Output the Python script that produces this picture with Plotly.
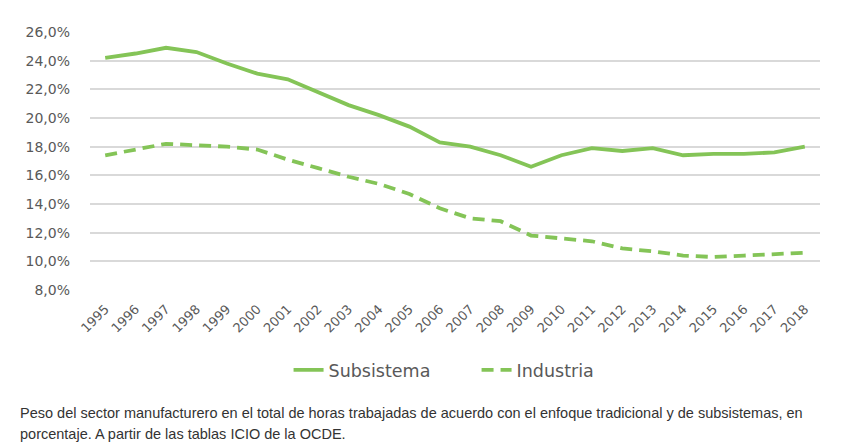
import plotly.graph_objects as go

years = [str(y) for y in range(1995, 2019)]
subsistema = [24.2, 24.5, 24.9, 24.6, 23.8, 23.1, 22.7, 21.8, 20.9, 20.2, 19.4, 18.3,
              18.0, 17.4, 16.6, 17.4, 17.9, 17.7, 17.9, 17.4, 17.5, 17.5, 17.6, 18.0]
industria = [17.4, 17.8, 18.2, 18.1, 18.0, 17.8, 17.1, 16.5, 15.9, 15.4, 14.7, 13.7,
             13.0, 12.8, 11.8, 11.6, 11.4, 10.9, 10.7, 10.4, 10.3, 10.4, 10.5, 10.6]
y_ticks = [8, 10, 12, 14, 16, 18, 20, 22, 24, 26]
y_labels = ["%d,0%%" % v for v in y_ticks]

caption_lines = [
    "Peso del sector manufacturero en el total de horas trabajadas de acuerdo con el "
    "enfoque tradicional y de subsistemas, en",
    "porcentaje. A partir de las tablas ICIO de la OCDE.",
]

green = "#84c457"
fig = go.Figure()
fig.add_trace(go.Scatter(x=years, y=subsistema, mode="lines", name="Subsistema",
                         line=dict(color=green, width=3.8)))
fig.add_trace(go.Scatter(x=years, y=industria, mode="lines", name="Industria",
                         line=dict(color=green, width=3.8, dash="12px,7px")))

# page body has an 8px margin, so the figure is a bit smaller than the window
fig.update_layout(
    width=841, height=436,
    margin=dict(l=82, r=29, t=24, b=154),
    paper_bgcolor="white", plot_bgcolor="white",
    font=dict(family="DejaVu Sans, Verdana, sans-serif", color="#595959"),
    legend=dict(orientation="h", x=0.272, xanchor="left", y=-0.31, yanchor="middle",
                font=dict(size=17.5, color="#595959"), entrywidth=143,
                entrywidthmode="pixels", tracegroupgap=0),
    xaxis=dict(type="category", range=[-0.5, 23.5], tickangle=-45, tickfont=dict(size=13),
               showgrid=False, showline=False, ticks="", ticklabelstandoff=8,
               automargin=False),
    yaxis=dict(range=[8, 26], tickvals=y_ticks, ticktext=y_labels,
               tickfont=dict(size=14), gridcolor="#d9d9d9", gridwidth=1.5,
               zeroline=False, ticks="", ticklen=0, ticklabelstandoff=19,
               automargin=False),
)
for text, ypos in zip(caption_lines, [-0.4767, -0.558]):
    fig.add_annotation(text=text, xref="paper", yref="paper", x=-0.0986, xanchor="left",
                       y=ypos, yanchor="middle", showarrow=False, align="left",
                       font=dict(family="Liberation Sans, Arial, sans-serif", size=14.5,
                                 color="#333333"))

fig.write_html("out.html")
